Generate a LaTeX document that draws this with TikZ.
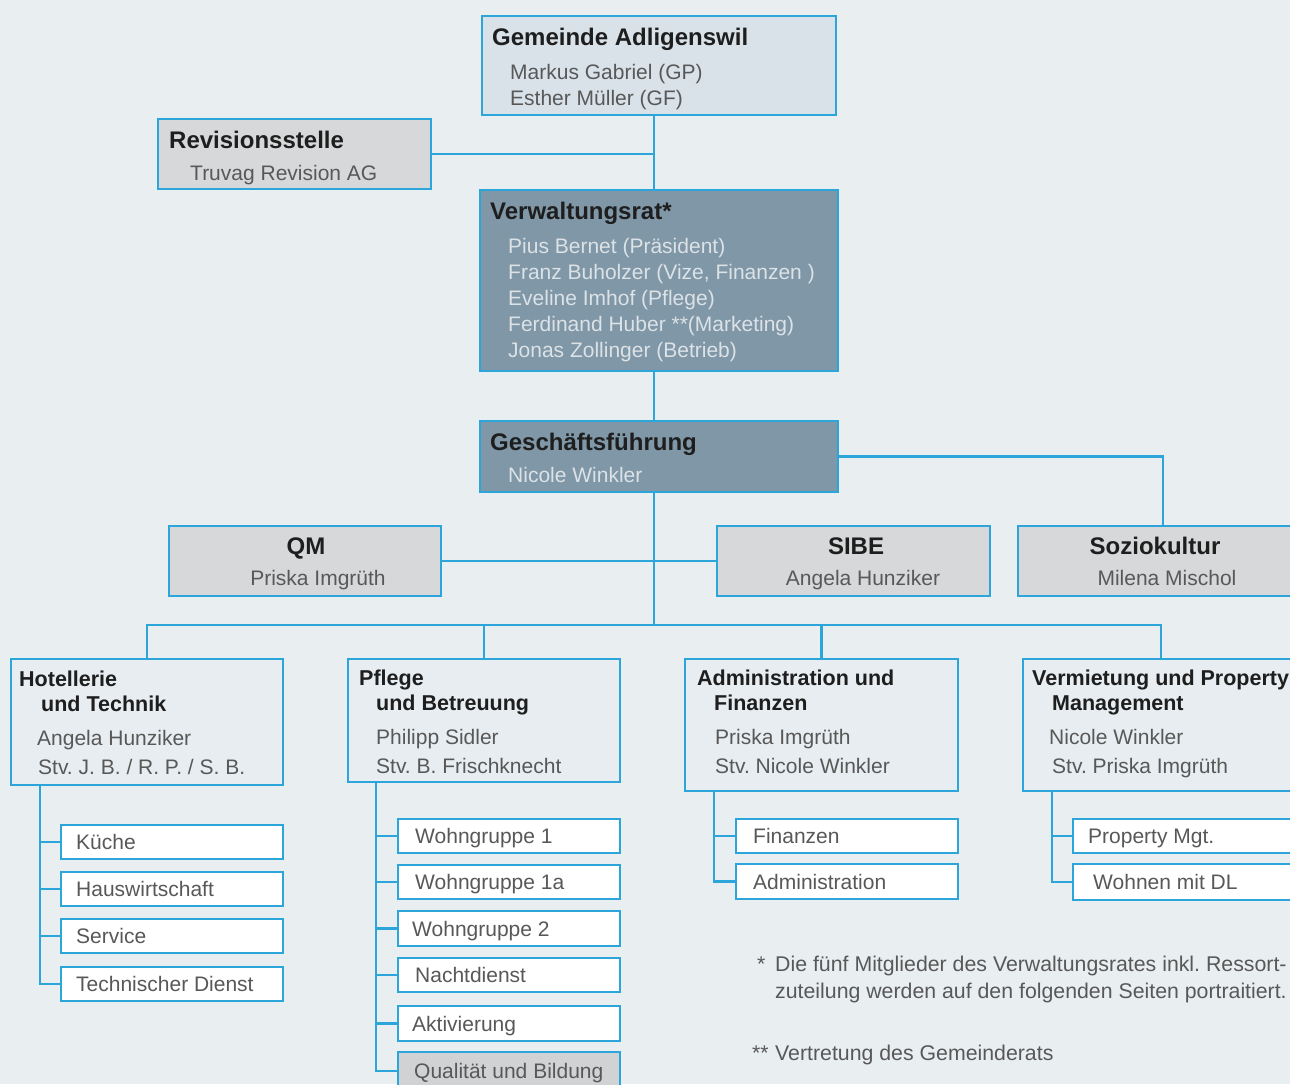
\documentclass[tikz,border=0pt]{standalone}
\usepackage{fontspec}
\setmainfont{Liberation Sans}
\frenchspacing
\definecolor{lineblue}{HTML}{2BA5DA}
\definecolor{pagebg}{HTML}{E9EEF1}
\definecolor{gemfill}{HTML}{D9E2E9}
\definecolor{grayfill}{HTML}{D6D8D9}
\definecolor{darkfill}{HTML}{7F97A7}
\definecolor{deptfill}{HTML}{E7EDF0}
\definecolor{qualfill}{HTML}{D0D2D3}
\definecolor{titlecol}{HTML}{1E1E1E}
\definecolor{bodycol}{HTML}{585858}
\definecolor{lightcol}{HTML}{DCE2E6}
\pgfdeclarelayer{back}
\pgfdeclarelayer{bg}
\pgfsetlayers{back,bg,main}
\tikzset{
  box/.style={draw=lineblue, line width=2.5pt, inner sep=0pt, outer sep=0pt, anchor=north west},
  conn/.style={draw=lineblue, line width=2.5pt},
  ttl/.style={font=\bfseries\fontsize{24}{28}\selectfont, text=titlecol, inner sep=0pt, anchor=base west},
  dttl/.style={font=\bfseries\fontsize{21.5}{26}\selectfont, text=titlecol, inner sep=0pt, anchor=base west},
  bod/.style={font=\fontsize{21}{26}\selectfont\frenchspacing, text=bodycol, inner sep=0pt, anchor=base west},
  fnt/.style={bod, font=\fontsize{21.3}{26}\selectfont\frenchspacing},
  lbod/.style={bod, text=lightcol},
}
\newcommand{\mybox}[6]{%
  \pgfmathsetmacro\bw{#4-#2}\pgfmathsetmacro\bh{#5-#3}%
  \node[box, fill=#6, minimum width=\bw pt, minimum height=\bh pt] (#1) at (#2,#3) {};}
\newcommand{\subbox}[8]{% name x1 y1 x2 y2 fill textx text
  \mybox{#1}{#2}{#3}{#4}{#5}{#6}%
  \pgfmathsetmacro\by{(#3+#5)/2+7.5}%
  \node[bod] (#1-t) at (#7,\by) {#8};}
\begin{document}
\begin{tikzpicture}[x=1pt,y=-1pt]
\useasboundingbox (0,0) rectangle (1290,1084);
\begin{pgfonlayer}{back}
\fill[pagebg] (0,0) rectangle (1290,1084);
\end{pgfonlayer}
\clip (0,0) rectangle (1290,1084);

% top level boxes
\mybox{gem}{482}{16}{836}{115}{gemfill}
\node[ttl] (gem-t) at (492,45) {Gemeinde Adligenswil};
\node[bod] (gem-1) at (510,79) {Markus Gabriel (GP)};
\node[bod] (gem-2) at (510,105) {Esther Müller (GF)};

\mybox{rev}{158}{119}{431}{189}{grayfill}
\node[ttl] (rev-t) at (169,148) {Revisionsstelle};
\node[bod] (rev-1) at (190,180) {Truvag Revision AG};

\mybox{vr}{480}{190}{838}{371}{darkfill}
\node[ttl] (vr-t) at (490,219) {Verwaltungsrat*};
\node[lbod] (vr-1) at (508,253) {Pius Bernet (Präsident)};
\node[lbod] (vr-2) at (508,279) {Franz Buholzer (Vize, Finanzen )};
\node[lbod] (vr-3) at (508,305) {Eveline Imhof (Pflege)};
\node[lbod] (vr-4) at (508,331) {Ferdinand Huber **(Marketing)};
\node[lbod] (vr-5) at (508,357) {Jonas Zollinger (Betrieb)};

\mybox{gf}{480}{421}{838}{492}{darkfill}
\node[ttl] (gf-t) at (490,450) {Geschäftsführung};
\node[lbod] (gf-1) at (508,482) {Nicole Winkler};

\mybox{qm}{169}{526}{441}{596}{grayfill}
\node[ttl, anchor=base] (qm-t) at (306,554) {QM};
\node[bod, anchor=base] (qm-1) at (318,585) {Priska Imgrüth};

\mybox{sibe}{717}{526}{990}{596}{grayfill}
\node[ttl, anchor=base] (sibe-t) at (856,554) {SIBE};
\node[bod, anchor=base] (sibe-1) at (863,585) {Angela Hunziker};

\mybox{sozio}{1018}{526}{1308}{596}{grayfill}
\node[ttl, anchor=base] (sozio-t) at (1155,554) {Soziokultur};
\node[bod, anchor=base] (sozio-1) at (1167,585) {Milena Mischol};

% departments
\mybox{hot}{11}{659}{283}{785}{deptfill}
\node[dttl] (hot-t1) at (19,686) {Hotellerie};
\node[dttl] (hot-t2) at (41,711) {und Technik};
\node[bod] (hot-1) at (37,745) {Angela Hunziker};
\node[bod] (hot-2) at (38,774) {Stv. J. B. / R. P. / S. B.};

\mybox{pfl}{348}{659}{620}{782}{deptfill}
\node[dttl] (pfl-t1) at (359,685) {Pflege};
\node[dttl] (pfl-t2) at (376,710) {und Betreuung};
\node[bod] (pfl-1) at (376,744) {Philipp Sidler};
\node[bod] (pfl-2) at (376,773) {Stv. B. Frischknecht};

\mybox{adm}{685}{659}{958}{791}{deptfill}
\node[dttl] (adm-t1) at (697,685) {Administration und};
\node[dttl] (adm-t2) at (714,710) {Finanzen};
\node[bod] (adm-1) at (715,744) {Priska Imgrüth};
\node[bod] (adm-2) at (715,773) {Stv. Nicole Winkler};

\mybox{ver}{1023}{659}{1299}{791}{deptfill}
\node[dttl] (ver-t1) at (1032,685) {Vermietung und Property};
\node[dttl] (ver-t2) at (1052,710) {Management};
\node[bod] (ver-1) at (1049,744) {Nicole Winkler};
\node[bod] (ver-2) at (1052,773) {Stv. Priska Imgrüth};

% sub units
\subbox{kue}{61}{825}{283}{859}{white}{76}{Küche}
\subbox{hau}{61}{872}{283}{906}{white}{76}{Hauswirtschaft}
\subbox{ser}{61}{919}{283}{953}{white}{76}{Service}
\subbox{tec}{61}{967}{283}{1001}{white}{76}{Technischer Dienst}

\subbox{wg1}{398}{819}{620}{853}{white}{415}{Wohngruppe 1}
\subbox{wg1a}{398}{865}{620}{899}{white}{415}{Wohngruppe 1a}
\subbox{wg2}{398}{911}{620}{946}{white}{412}{Wohngruppe 2}
\subbox{nac}{398}{958}{620}{992}{white}{415}{Nachtdienst}
\subbox{akt}{398}{1006}{620}{1041}{white}{412}{Aktivierung}
\mybox{qua}{398}{1052}{620}{1110}{qualfill}
\node[bod] (qua-t) at (414,1078) {Qualität und Bildung};

\subbox{fin}{736}{819}{958}{853}{white}{753}{Finanzen}
\subbox{adn}{736}{864}{958}{899}{white}{753}{Administration}

\subbox{pro}{1073}{819}{1310}{853}{white}{1088}{Property Mgt.}
\subbox{woh}{1073}{864}{1310}{900}{white}{1093}{Wohnen mit DL}

% footnotes
\node[fnt] (fn1a) at (757,971) {*};
\node[fnt] (fn1) at (775,971) {Die fünf Mitglieder des Verwaltungsrates inkl. Ressort-};
\node[fnt] (fn2) at (775,998) {zuteilung werden auf den folgenden Seiten portraitiert.};
\node[fnt] (fn3a) at (752,1060) {**};
\node[fnt] (fn3) at (775,1060) {Vertretung des Gemeinderats};

% connectors
\coordinate (trunk) at (654,0);
\coordinate (bus) at (654,625);
\coordinate (hs) at (40,0);
\coordinate (ps) at (376,0);
\coordinate (as) at (714,0);
\coordinate (vs) at (1052,0);
\begin{pgfonlayer}{bg}
\draw[conn] (gem.south -| trunk) -- (vr.north -| trunk);
\draw[conn] (rev.east) -- (rev.east -| trunk);
\draw[conn] (vr.south -| trunk) -- (gf.north -| trunk);
\draw[conn] (gf.south -| trunk) -- (bus);
\draw[conn] (gf.east) -| (sozio.north);
\draw[conn] (qm.east) -- (sibe.west);
\draw[conn] (hot.north) |- (bus) -| (ver.north);
\draw[conn] (pfl.north) -- (pfl.north |- bus);
\draw[conn] (adm.north) -- (adm.north |- bus);
\draw[conn] (hot.south -| hs) |- (kue.west);
\draw[conn] (hot.south -| hs) |- (hau.west);
\draw[conn] (hot.south -| hs) |- (ser.west);
\draw[conn] (hot.south -| hs) |- (tec.west);
\draw[conn] (pfl.south -| ps) |- (wg1.west);
\draw[conn] (pfl.south -| ps) |- (wg1a.west);
\draw[conn] (pfl.south -| ps) |- (wg2.west);
\draw[conn] (pfl.south -| ps) |- (nac.west);
\draw[conn] (pfl.south -| ps) |- (akt.west);
\draw[conn] (pfl.south -| ps) |- (qua.west |- 0,1071);
\draw[conn] (adm.south -| as) |- (fin.west);
\draw[conn] (adm.south -| as) |- (adn.west);
\draw[conn] (ver.south -| vs) |- (pro.west);
\draw[conn] (ver.south -| vs) |- (woh.west);
\end{pgfonlayer}
\end{tikzpicture}
\end{document}
